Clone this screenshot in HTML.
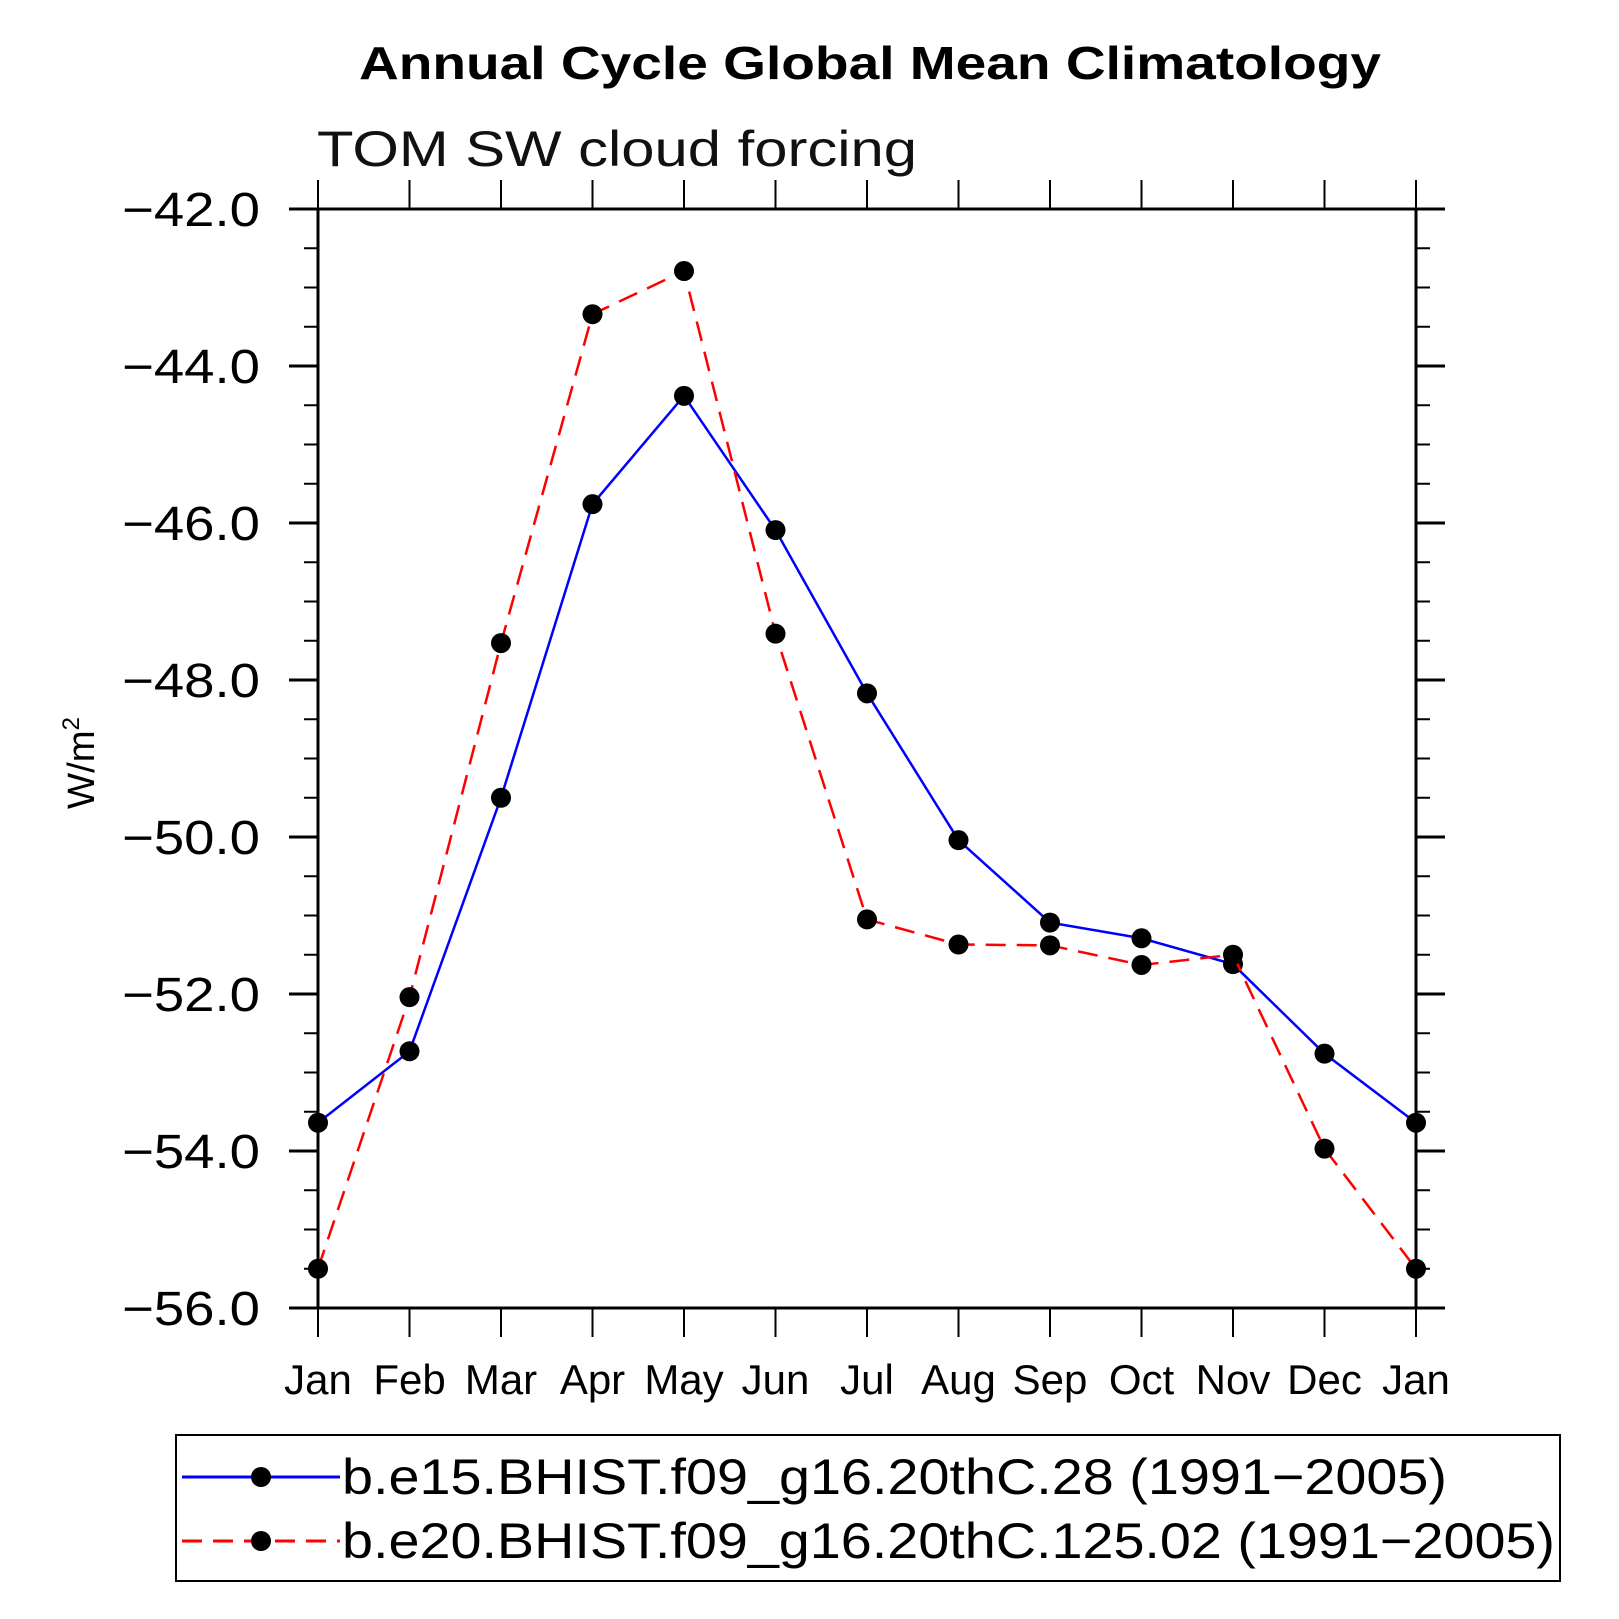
<!DOCTYPE html>
<html><head><meta charset="utf-8"><style>html,body{margin:0;padding:0;background:#fff}svg{display:block}</style></head>
<body>
<svg id="chart" width="1619" height="1619" viewBox="0 0 1619 1619" xmlns="http://www.w3.org/2000/svg" font-family="Liberation Sans, sans-serif">
<text x="870" y="79" text-anchor="middle" font-size="46" font-weight="bold" textLength="1022" lengthAdjust="spacingAndGlyphs">Annual Cycle Global Mean Climatology</text>
<text x="317" y="166" font-size="50" textLength="600" lengthAdjust="spacingAndGlyphs" fill="#111">TOM SW cloud forcing</text>
<text transform="translate(94,763) rotate(-90)" text-anchor="middle" font-size="38" textLength="92" lengthAdjust="spacingAndGlyphs">W/m<tspan font-size="24" dy="-15">2</tspan></text>
<g id="axes"></g>
<g id="series"></g>
<g>
<rect x="176" y="1435" width="1384" height="146" fill="none" stroke="#000" stroke-width="2"/>
<line x1="182" y1="1477" x2="340" y2="1477" stroke="#0000ff" stroke-width="3"/>
<circle cx="261" cy="1477" r="10"/>
<text x="342" y="1494" font-size="50" textLength="1105" lengthAdjust="spacingAndGlyphs">b.e15.BHIST.f09_g16.20thC.28 (1991−2005)</text>
<line x1="182" y1="1541" x2="340" y2="1541" stroke="#ff0000" stroke-width="3" stroke-dasharray="20,11"/>
<circle cx="261" cy="1541" r="10"/>
<text x="342" y="1558" font-size="50" textLength="1213" lengthAdjust="spacingAndGlyphs">b.e20.BHIST.f09_g16.20thC.125.02 (1991−2005)</text>
</g>
</svg>
<script>
const months = ["Jan","Feb","Mar","Apr","May","Jun","Jul","Aug","Sep","Oct","Nov","Dec","Jan"];
const blueValues = [-53.64,-52.73,-49.5,-45.76,-44.38,-46.09,-48.17,-50.04,-51.09,-51.29,-51.62,-52.76,-53.64];
const redValues = [-55.5,-52.04,-47.53,-43.34,-42.79,-47.41,-51.05,-51.37,-51.38,-51.63,-51.5,-53.97,-55.5];
const yTicks = [-42,-44,-46,-48,-50,-52,-54,-56];
const yTickLabels = ["−42.0","−44.0","−46.0","−48.0","−50.0","−52.0","−54.0","−56.0"];

const NS = "http://www.w3.org/2000/svg";
const L = 318, R = 1416, T = 209, B = 1308, yMin = -56, yMax = -42;
function xs(i){ return L + (R - L) * i / (months.length - 1); }
function ys(v){ return T + (yMax - v) / (yMax - yMin) * (B - T); }
function mk(tag, attrs, parent){ const e = document.createElementNS(NS, tag); for (const k in attrs) e.setAttribute(k, attrs[k]); parent.appendChild(e); return e; }
const axes = document.getElementById('axes');
const frame = mk('rect', {x:L, y:T, width:R-L, height:B-T, fill:'none', stroke:'#000', 'stroke-width':3}, axes);


for (let v = yMin; v <= yMax + 1e-9; v += 0.5) {
  const y = ys(v);
  const major = Math.abs(v - Math.round(v)) < 1e-9 && Math.round(v) % 2 === 0;
  const len = major ? 29 : 14;
  const t1 = mk('line', {x1:L-len, y1:y, x2:L, y2:y, stroke:'#000', 'stroke-width': major?3:2}, axes);
  
  
  const t2 = mk('line', {x1:R, y1:y, x2:R+len, y2:y, stroke:'#000', 'stroke-width': major?3:2}, axes);
  
  
}
yTicks.forEach((v, i) => {
  const t = mk('text', {x:122, y:ys(v)+17, 'font-size':48, textLength:138, lengthAdjust:'spacingAndGlyphs'}, axes);
  t.textContent = yTickLabels[i];
  
  
});
months.forEach((m, i) => {
  const x = xs(i);
  const a = mk('line', {x1:x, y1:B, x2:x, y2:B+29, stroke:'#000', 'stroke-width':2}, axes);
  
  
  const b = mk('line', {x1:x, y1:T-29, x2:x, y2:T, stroke:'#000', 'stroke-width':2}, axes);
  
  
  const t = mk('text', {x:x, y:1394, 'text-anchor':'middle', 'font-size':42}, axes);
  t.textContent = m;
  
  
});
const series = document.getElementById('series');
function drawSeries(vals, color, dash, name){
  const pts = vals.map((v,i) => xs(i)+','+ys(v)).join(' ');
  const pl = mk('polyline', {points:pts, fill:'none', stroke:color, 'stroke-width':2.5}, series);
  if (dash) pl.setAttribute('stroke-dasharray', '20,11');
  
  
  vals.forEach((v,i) => {
    const c = mk('circle', {cx:xs(i), cy:ys(v), r:10, fill:'#000'}, series);
    
    
  });
}
drawSeries(blueValues, '#0000ff', false, 'blue-series');
drawSeries(redValues, '#ff0000', true, 'red-series');
</script>
</body></html>
